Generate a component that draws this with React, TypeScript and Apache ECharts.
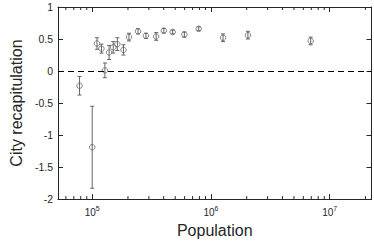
import React, { useEffect, useRef } from "react";
import * as echarts from "echarts";

const populations = [78200, 100000, 109700, 119700, 127900, 138800, 150300, 162800, 183300, 204000, 243200, 283300, 345600, 401000, 475600, 597400, 788400, 1264000, 2048000, 6918000];
const recapitulation = [-0.23, -1.19, 0.43, 0.35, 0.01, 0.29, 0.37, 0.42, 0.33, 0.53, 0.62, 0.55, 0.54, 0.63, 0.61, 0.57, 0.66, 0.52, 0.56, 0.47];
const errors = [0.145, 0.64, 0.09, 0.07, 0.115, 0.11, 0.09, 0.1, 0.08, 0.06, 0.04, 0.04, 0.06, 0.035, 0.03, 0.04, 0.03, 0.06, 0.06, 0.06];
const minorTicks = [
  60000, 70000, 80000, 90000,
  200000, 300000, 400000, 500000, 600000, 700000, 800000, 900000,
  2000000, 3000000, 4000000, 5000000, 6000000, 7000000, 8000000, 9000000,
  20000000,
];
const X_MIN = 51500;
const X_MAX = 22500000;
const Y_MIN = -2;
const Y_MAX = 1;

const FONT = "'Liberation Sans', Arial, sans-serif";
const INK = "#262626";
const MARK = "#666666";

export default function App() {
  const ref = useRef<HTMLDivElement>(null);
  useEffect(() => {
    if (!ref.current) return;
    const chart = echarts.init(ref.current, null, { renderer: "svg" });
    const xLabel = (v: number) => {
      const e = Math.log10(v);
      if (Math.abs(e - Math.round(e)) > 1e-6) return "";
      return `{b|10}{s|${Math.round(e)}}`;
    };
    const baseX = {
      type: "log" as const,
      logBase: 10,
      min: X_MIN,
      max: X_MAX,
      splitLine: { show: false },
      axisLine: { show: true, onZero: false, lineStyle: { color: INK, width: 1 } },
      axisTick: { show: true, inside: true, length: 5, lineStyle: { color: INK } },
    };
    const baseY = {
      type: "value" as const,
      min: Y_MIN,
      max: Y_MAX,
      interval: 0.5,
      splitLine: { show: false },
      axisLine: { show: true, onZero: false, lineStyle: { color: INK, width: 1 } },
      axisTick: { show: true, inside: true, length: 5, lineStyle: { color: INK } },
    };
    chart.setOption({
      animation: false,
      textStyle: { fontFamily: FONT },
      grid: { left: 43, right: 2.5, top: 7, bottom: 40.3 },
      xAxis: [
        {
          ...baseX,
          position: "bottom",
          name: "Population",
          nameLocation: "middle",
          nameGap: 21,
          nameTextStyle: { fontSize: 16, color: INK, fontFamily: FONT },
          axisLabel: {
            show: true,
            margin: 6,
            showMinLabel: false,
            showMaxLabel: false,
            formatter: xLabel,
            rich: {
              b: { fontSize: 10, color: INK, fontFamily: FONT, verticalAlign: "bottom" },
              s: { fontSize: 7, color: INK, fontFamily: FONT, verticalAlign: "bottom", padding: [0, 0, 5, 0] },
            },
          },
        },
        { ...baseX, position: "top", axisLabel: { show: false } },
      ],
      yAxis: [
        {
          ...baseY,
          position: "left",
          name: "City recapitulation",
          nameLocation: "middle",
          nameGap: 26,
          nameTextStyle: { fontSize: 16, color: INK, fontFamily: FONT },
          axisLabel: { show: true, margin: 5, fontSize: 10.5, color: INK, fontFamily: FONT },
        },
        { ...baseY, position: "right", axisLabel: { show: false } },
      ],
      series: [
        {
          type: "custom",
          xAxisIndex: 0,
          yAxisIndex: 0,
          silent: true,
          clip: false,
          data: minorTicks.map((v) => [v, Y_MIN]),
          renderItem: (params: any, api: any) => {
            const v = api.value(0);
            const b = api.coord([v, Y_MIN]);
            const t = api.coord([v, Y_MAX]);
            return {
              type: "group",
              children: [
                { type: "line", shape: { x1: b[0], y1: b[1], x2: b[0], y2: b[1] - 3 }, style: { stroke: INK, lineWidth: 1 } },
                { type: "line", shape: { x1: t[0], y1: t[1], x2: t[0], y2: t[1] + 3 }, style: { stroke: INK, lineWidth: 1 } },
              ],
            };
          },
        },
        {
          type: "custom",
          xAxisIndex: 0,
          yAxisIndex: 0,
          silent: true,
          data: populations.map((p, i) => [p, recapitulation[i], errors[i]]),
          renderItem: (params: any, api: any) => {
            const x = api.value(0);
            const y = api.value(1);
            const e = api.value(2);
            const top = api.coord([x, y + e]);
            const bot = api.coord([x, y - e]);
            const w = 2;
            const st = { stroke: MARK, lineWidth: 1 };
            return {
              type: "group",
              children: [
                { type: "line", shape: { x1: top[0], y1: top[1], x2: bot[0], y2: bot[1] }, style: st },
                { type: "line", shape: { x1: top[0] - w, y1: top[1], x2: top[0] + w, y2: top[1] }, style: st },
                { type: "line", shape: { x1: bot[0] - w, y1: bot[1], x2: bot[0] + w, y2: bot[1] }, style: st },
              ],
            };
          },
        },
        {
          type: "scatter",
          xAxisIndex: 0,
          yAxisIndex: 0,
          symbol: "circle",
          symbolSize: 5.5,
          itemStyle: { color: "rgba(255,255,255,0)", borderColor: MARK, borderWidth: 1 },
          data: populations.map((p, i) => [p, recapitulation[i]]),
          markLine: {
            silent: true,
            symbol: "none",
            label: { show: false },
            lineStyle: { color: "#000", width: 1, type: [6, 4] },
            data: [{ yAxis: 0 }],
          },
        },
      ],
    });
    return () => chart.dispose();
  }, []);
  return <div ref={ref} style={{ position: "absolute", left: 0, top: 0, width: 374, height: 243 }} />;
}
